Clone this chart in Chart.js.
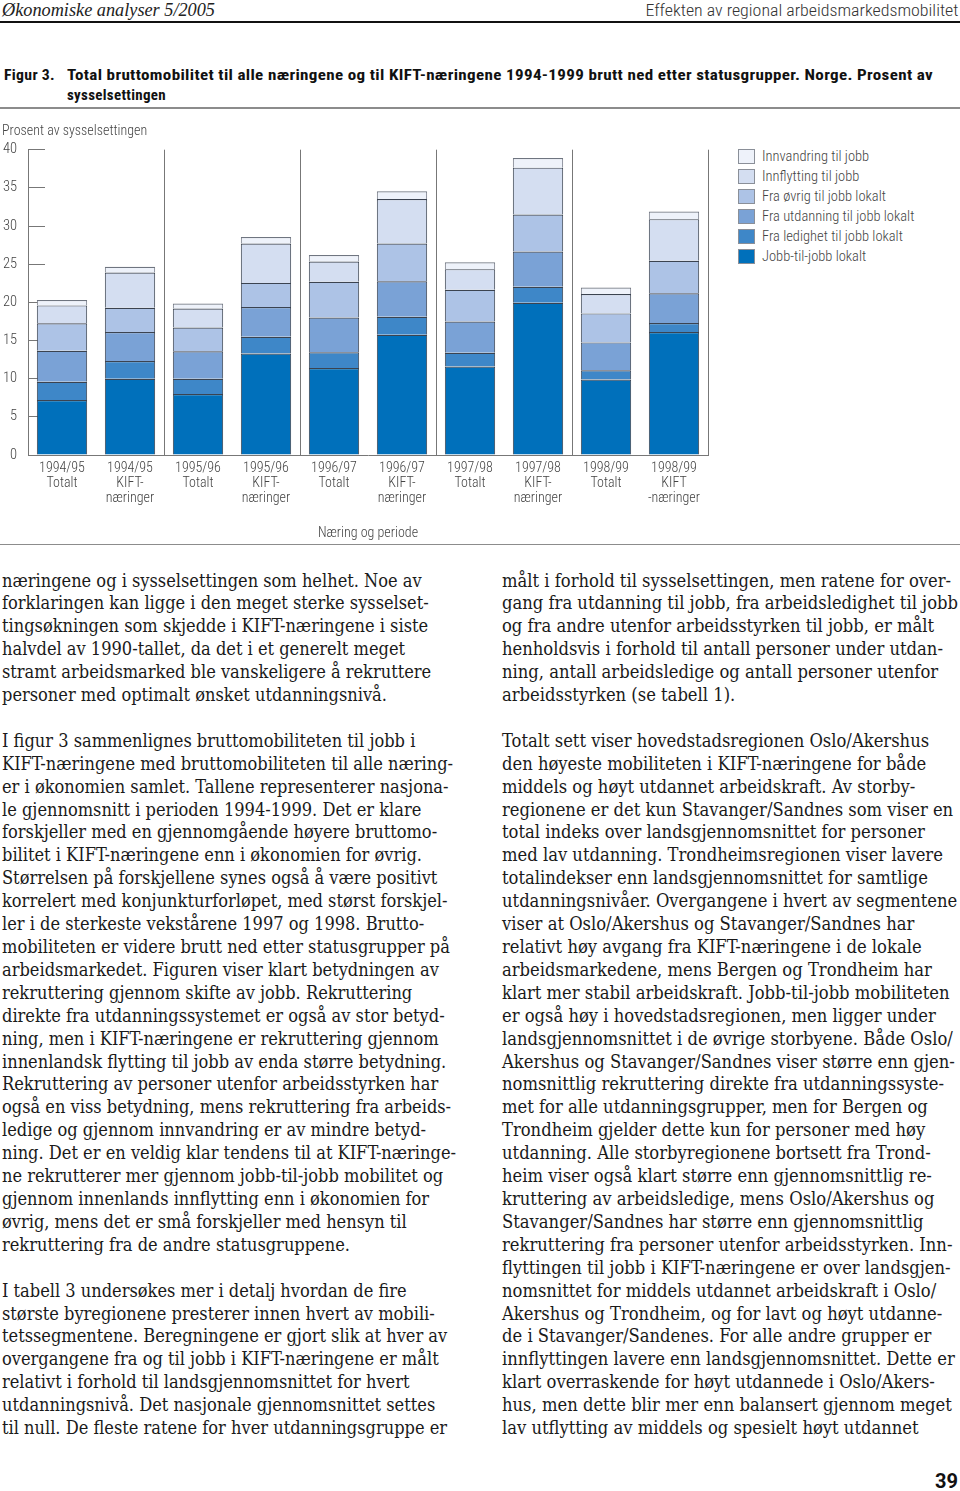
<!DOCTYPE html>
<html>
<head>
<meta charset="utf-8">
<script src="https://cdn.jsdelivr.net/npm/chart.js@4.4.1/dist/chart.umd.min.js"></script>
<style>
  body { margin: 0; width: 960px; height: 1491px; position: relative; background: #fff; overflow: hidden; }
  .abs { position: absolute; white-space: nowrap; }
  .sans { font-family: "Roboto Condensed", "DejaVu Sans Condensed", sans-serif; }
  .cap { font-size: 15px; font-weight: bold; color: #111; letter-spacing: 0.3px; }
  .rule { position: absolute; left: 0; width: 960px; }
  .col { position: absolute; top: 569.5px; white-space: pre; font-family: "DejaVu Serif Condensed", "DejaVu Serif", serif;
         font-size: 18px; line-height: 22.9px; color: #1a1a1a; display: inline-block; transform-origin: left top; }
  #legend { position: absolute; left: 738px; top: 149px; }
  .li { height: 20px; display: flex; align-items: flex-start; }
  .li span.box { width: 15px; height: 13px; border: 1px solid #8a8f98; display: inline-block; }
  .li span.t { margin-left: 7px; font-size: 14.5px; line-height: 15px; color: #444; font-weight: 300; }
</style>
</head>
<body>
<div class="abs" id="hdrL" style="left:2px;top:0px;font-family:'Liberation Serif',serif;font-style:italic;font-size:18px;color:#222;">Økonomiske analyser 5/2005</div>
<div class="abs sans" id="hdrR" style="right:2px;top:0px;font-size:17px;color:#333;font-weight:300;">Effekten av regional arbeidsmarkedsmobilitet</div>
<div class="rule" style="top:21px;height:2px;background:#111;"></div>

<div class="abs sans cap" id="fig" style="left:4px;top:66px;">Figur 3.</div>
<div class="abs sans cap" id="cap1" style="left:67px;top:66px;">Total bruttomobilitet til alle næringene og til KIFT-næringene 1994-1999 brutt ned etter statusgrupper. Norge. Prosent av</div>
<div class="abs sans cap" id="cap2" style="left:67px;top:86px;">sysselsettingen</div>
<div class="rule" style="top:107px;height:2px;background:#8c8c8c;"></div>

<div style="position:absolute;left:0;top:113px;width:720px;height:432px;">
  <canvas id="chart"></canvas>
</div>
<div id="legend" class="sans"></div>
<div class="rule" style="top:544px;height:1px;background:#8c8c8c;"></div>

<div class="col" id="colL" style="left:2px;">næringene og i sysselsettingen som helhet. Noe av
forklaringen kan ligge i den meget sterke sysselset-
tingsøkningen som skjedde i KIFT-næringene i siste
halvdel av 1990-tallet, da det i et generelt meget
stramt arbeidsmarked ble vanskeligere å rekruttere
personer med optimalt ønsket utdanningsnivå.

I figur 3 sammenlignes bruttomobiliteten til jobb i
KIFT-næringene med bruttomobiliteten til alle næring-
er i økonomien samlet. Tallene representerer nasjona-
le gjennomsnitt i perioden 1994-1999. Det er klare
forskjeller med en gjennomgående høyere bruttomo-
bilitet i KIFT-næringene enn i økonomien for øvrig.
Størrelsen på forskjellene synes også å være positivt
korrelert med konjunkturforløpet, med størst forskjel-
ler i de sterkeste vekstårene 1997 og 1998. Brutto-
mobiliteten er videre brutt ned etter statusgrupper på
arbeidsmarkedet. Figuren viser klart betydningen av
rekruttering gjennom skifte av jobb. Rekruttering
direkte fra utdanningssystemet er også av stor betyd-
ning, men i KIFT-næringene er rekruttering gjennom
innenlandsk flytting til jobb av enda større betydning.
Rekruttering av personer utenfor arbeidsstyrken har
også en viss betydning, mens rekruttering fra arbeids-
ledige og gjennom innvandring er av mindre betyd-
ning. Det er en veldig klar tendens til at KIFT-næringe-
ne rekrutterer mer gjennom jobb-til-jobb mobilitet og
gjennom innenlands innflytting enn i økonomien for
øvrig, mens det er små forskjeller med hensyn til
rekruttering fra de andre statusgruppene.

I tabell 3 undersøkes mer i detalj hvordan de fire
største byregionene presterer innen hvert av mobili-
tetssegmentene. Beregningene er gjort slik at hver av
overgangene fra og til jobb i KIFT-næringene er målt
relativt i forhold til landsgjennomsnittet for hvert
utdanningsnivå. Det nasjonale gjennomsnittet settes
til null. De fleste ratene for hver utdanningsgruppe er</div>

<div class="col" id="colR" style="left:502px;">målt i forhold til sysselsettingen, men ratene for over-
gang fra utdanning til jobb, fra arbeidsledighet til jobb
og fra andre utenfor arbeidsstyrken til jobb, er målt
henholdsvis i forhold til antall personer under utdan-
ning, antall arbeidsledige og antall personer utenfor
arbeidsstyrken (se tabell 1).

Totalt sett viser hovedstadsregionen Oslo/Akershus
den høyeste mobiliteten i KIFT-næringene for både
middels og høyt utdannet arbeidskraft. Av storby-
regionene er det kun Stavanger/Sandnes som viser en
total indeks over landsgjennomsnittet for personer
med lav utdanning. Trondheimsregionen viser lavere
totalindekser enn landsgjennomsnittet for samtlige
utdanningsnivåer. Overgangene i hvert av segmentene
viser at Oslo/Akershus og Stavanger/Sandnes har
relativt høy avgang fra KIFT-næringene i de lokale
arbeidsmarkedene, mens Bergen og Trondheim har
klart mer stabil arbeidskraft. Jobb-til-jobb mobiliteten
er også høy i hovedstadsregionen, men ligger under
landsgjennomsnittet i de øvrige storbyene. Både Oslo/
Akershus og Stavanger/Sandnes viser større enn gjen-
nomsnittlig rekruttering direkte fra utdanningssyste-
met for alle utdanningsgrupper, men for Bergen og
Trondheim gjelder dette kun for personer med høy
utdanning. Alle storbyregionene bortsett fra Trond-
heim viser også klart større enn gjennomsnittlig re-
kruttering av arbeidsledige, mens Oslo/Akershus og
Stavanger/Sandnes har større enn gjennomsnittlig
rekruttering fra personer utenfor arbeidsstyrken. Inn-
flyttingen til jobb i KIFT-næringene er over landsgjen-
nomsnittet for middels utdannet arbeidskraft i Oslo/
Akershus og Trondheim, og for lavt og høyt utdanne-
de i Stavanger/Sandenes. For alle andre grupper er
innflyttingen lavere enn landsgjennomsnittet. Dette er
klart overraskende for høyt utdannede i Oslo/Akers-
hus, men dette blir mer enn balansert gjennom meget
lav utflytting av middels og spesielt høyt utdannet</div>

<div class="abs" style="right:2px;top:1469px;font-family:Roboto,sans-serif;font-weight:bold;font-size:20px;color:#111;">39</div>

<script>
// kategorier (periode + næring)
const categories = [
    ['1994/95', 'Totalt'], ['1994/95', 'KIFT-', 'næringer'],
    ['1995/96', 'Totalt'], ['1995/96', 'KIFT-', 'næringer'],
    ['1996/97', 'Totalt'], ['1996/97', 'KIFT-', 'næringer'],
    ['1997/98', 'Totalt'], ['1997/98', 'KIFT-', 'næringer'],
    ['1998/99', 'Totalt'], ['1998/99', 'KIFT', '-næringer']
];
const seriesNames = ['Jobb-til-jobb lokalt', 'Fra ledighet til jobb lokalt', 'Fra utdanning til jobb lokalt',
    'Fra øvrig til jobb lokalt', 'Innflytting til jobb', 'Innvandring til jobb'];

const jobbTilJobb = [7.2, 10.0, 8.0, 13.3, 11.4, 15.75, 11.6, 19.95, 9.9, 16.1];
const fraLedighet = [2.4, 2.3, 2.0, 2.2, 2.05, 2.35, 1.8, 2.1, 1.2, 1.2];
const fraUtdanning = [4.05, 3.8, 3.6, 3.9, 4.55, 4.65, 4.1, 4.6, 3.65, 3.9];
const fraOvrig = [3.6, 3.2, 3.1, 3.15, 4.7, 4.95, 4.15, 4.85, 3.8, 4.25];
const innflytting = [2.35, 4.6, 2.5, 5.15, 2.65, 5.85, 2.7, 6.15, 2.55, 5.45];
const innvandring = [0.7, 0.75, 0.65, 0.85, 0.85, 1.0, 0.9, 1.25, 0.85, 1.0];
const yTicks = [0, 5, 10, 15, 20, 25, 30, 35, 40];

const colors = ['#0070bb', '#3e87c8', '#7aa2d6', '#adc3e6', '#d4def1', '#eef2fa'];
const values = [jobbTilJobb, fraLedighet, fraUtdanning, fraOvrig, innflytting, innvandring];

Chart.defaults.font.family = '"Roboto Condensed", "DejaVu Sans Condensed", sans-serif';
Chart.defaults.font.weight = 300;
Chart.defaults.color = '#444';

const chart = new Chart(document.getElementById('chart'), {
    type: 'bar',
    data: {
        labels: categories,
        datasets: values.map((v, i) => ({
            label: seriesNames[i],
            data: v,
            backgroundColor: colors[i],
            borderColor: i === 5 ? '#6f7580' : '#3b4350',
            borderWidth: { top: 1.2, left: 1, right: 1, bottom: 0 },
            borderSkipped: false,
            categoryPercentage: 0.74,
            barPercentage: 1
        }))
    },
    options: {
        responsive: true,
        maintainAspectRatio: false,
        animation: false,
        layout: { padding: { left: 2, right: 12, top: 0, bottom: 0 } },
        plugins: {
            legend: { display: false },
            tooltip: { enabled: false },
            title: {
                display: true,
                text: 'Prosent av sysselsettingen',
                align: 'start',
                color: '#444',
                font: { size: 14, weight: 300, lineHeight: 1.2 },
                padding: { top: 0, bottom: 10.3 }
            }
        },
        scales: {
            x: {
                stacked: true,
                grid: {
                    offset: true,
                    drawTicks: false,
                    // skillelinjer mellom periodene
                    color: c => (c.index === undefined || (c.index > 0 && c.index % 2 === 0)) ? '#777' : 'rgba(0,0,0,0)'
                },
                border: { color: '#777' },
                ticks: { padding: 5.3, color: '#444', font: { size: 14, lineHeight: 1.1 }, maxRotation: 0, autoSkip: false },
                title: {
                    display: true, text: 'Næring og periode', color: '#444',
                    font: { size: 14, lineHeight: 1.2 }, padding: { top: 0, bottom: 3.6 }
                },
                afterFit: s => { s.height = 90; }
            },
            y: {
                stacked: true,
                min: 0,
                max: 40,
                afterBuildTicks: s => { s.ticks = yTicks.map(v => ({ value: v })); },
                ticks: { padding: 28, color: '#444', font: { size: 14.5 } },
                grid: { drawOnChartArea: false, tickLength: -17, color: '#777' },
                border: { color: '#777' },
                afterFit: s => { s.width = 26; }
            }
        }
    }
});

// legende bygget fra datasettene (øverste segment først)
const legend = document.getElementById('legend');
chart.data.datasets.slice().reverse().forEach(ds => {
    const row = document.createElement('div');
    row.className = 'li';
    row.innerHTML = '<span class="box" style="background:' + ds.backgroundColor + '"></span><span class="t">' + ds.label + '</span>';
    legend.appendChild(row);
});

// tilpass bredder til originalen
function fitWidth(id, target, origin) {
    const el = document.getElementById(id);
    const w = el.getBoundingClientRect().width;
    el.style.transformOrigin = origin || 'left top';
    el.style.transform = 'scaleX(' + (target / w) + ')';
}
fitWidth('colL', 454);
fitWidth('colR', 456);
fitWidth('cap1', 866);
fitWidth('fig', 51);
fitWidth('hdrL', 213);
fitWidth('hdrR', 313, 'right top');
</script>
</body>
</html>
